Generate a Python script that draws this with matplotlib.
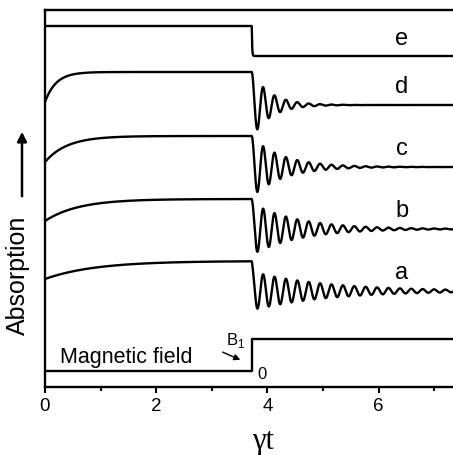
import numpy as np
import matplotlib
matplotlib.use("Agg")
import matplotlib.pyplot as plt

plt.rcParams['font.family'] = ['Liberation Sans', 'DejaVu Sans']
plt.rcParams['mathtext.fontset'] = 'custom'
plt.rcParams['mathtext.rm'] = 'Liberation Sans'

# ---- values (y in arbitrary absorption units) ----
curve_names = ['a', 'b', 'c', 'd']
start_level = [108, 166, 225, 285]      # value at t = 0
plateau_level = [126, 188, 251, 315]    # level reached before the field step
final_level = [96, 158, 220, 282]       # level after the ringing dies out
rise_time = [0.9, 0.6, 0.4, 0.2]
ring_amp = [19.5, 26, 30, 33]           # oscillating part of the drop
ring_damp = [0.75, 1.2, 1.8, 3.0]
ring_period = 0.205
fast_rate = 30.0

e_levels = [361, 361, 331]              # start, plateau, final
step_time = 3.72                        # field switched on (gamma*t)

field_times = [0.0, step_time, step_time, 7.4]
field_levels = [16, 16, 48, 48]

t = np.linspace(0, 7.4, 4000)


def curve(t, s, p, f, tr, A, g, kf):
    y = p - (p - s) * np.exp(-t / tr)
    y0 = p - (p - s) * np.exp(-step_time / tr)
    tau = t[t >= step_time] - step_time
    w = 2 * np.pi / ring_period
    y[t >= step_time] = (f + A * np.exp(-g * tau) * np.cos(w * tau)
                         + (y0 - f - A) * np.exp(-kf * tau))
    return y


fig = plt.figure(figsize=(4.53, 4.56), dpi=100)
ax = fig.add_axes([45/453, 68/456, 408/453, 377/456])

for i, name in enumerate(curve_names):
    y = curve(t, start_level[i], plateau_level[i], final_level[i],
              rise_time[i], ring_amp[i], ring_damp[i], fast_rate)
    ax.plot(t, y, color='black', lw=1.7)
    ax.text(6.42, final_level[i] + 19, name, fontsize=17, ha='center', va='center')

ye = curve(t, e_levels[0], e_levels[1], e_levels[2], 0.02, 0.0, 1.0, 150.0)
ax.plot(t, ye, color='black', lw=1.7)
ax.text(6.42, e_levels[2] + 18, 'e', fontsize=17, ha='center', va='center')

ax.plot(field_times, field_levels, color='black', lw=1.7)
ax.text(0.27, 31, 'Magnetic field', fontsize=15.5, ha='left', va='center')
ax.annotate('', xy=(3.56, 26), xytext=(3.15, 36),
            arrowprops=dict(arrowstyle='-|>', color='black', lw=1.0,
                            mutation_scale=9))
ax.text(3.43, 48, r'$\mathrm{B}_1$', fontsize=12, ha='center', va='center')
ax.text(3.9, 13, '0', fontsize=12, ha='center', va='center')

ax.set_xlim(0, 7.34)
ax.set_ylim(0, 377)
ax.set_xticks([0, 2, 4, 6])
ax.set_xticks([1, 3, 5, 7], minor=True)
ax.set_yticks([])
ax.tick_params(axis='x', which='major', direction='out', length=4.5, width=1.5,
               labelsize=13.5, pad=3)
ax.tick_params(axis='x', which='minor', direction='out', length=3, width=1.5)
for s in ['left', 'bottom', 'top']:
    ax.spines[s].set_linewidth(1.7)
ax.spines['right'].set_visible(False)

fig.text(263/453, 14/456, 'γt', fontsize=22, ha='center', va='center',
         family=['Liberation Serif', 'DejaVu Serif'])
fig.text(18/453, 181/456, 'Absorption', fontsize=18, rotation=90,
         ha='center', va='center')
ax.annotate('', xy=(22, 326), xytext=(22, 256), xycoords='figure pixels',
            textcoords='figure pixels',
            arrowprops=dict(arrowstyle='-|>', color='black', lw=1.8,
                            mutation_scale=14))

fig.savefig('out.png', dpi=100)
